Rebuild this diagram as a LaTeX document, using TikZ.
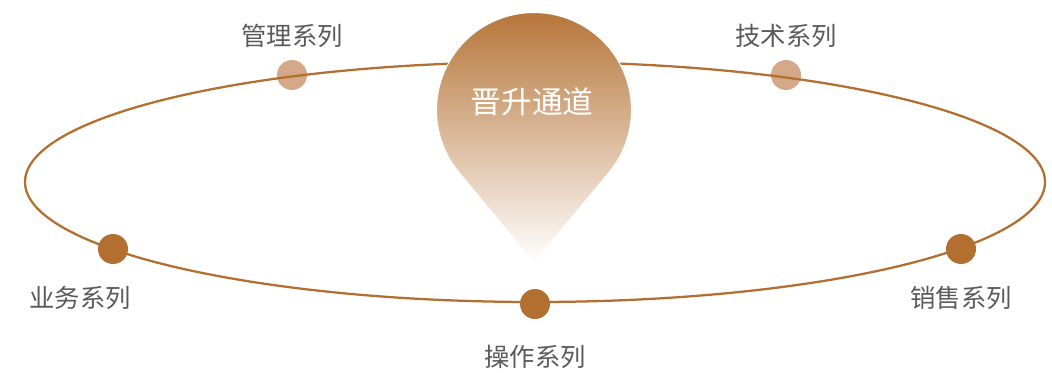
\documentclass[tikz,border=0pt]{standalone}
\usepackage{fontspec}
\setmainfont{Noto Sans CJK SC}
\usetikzlibrary{positioning}
\definecolor{bronze}{RGB}{179,111,48}
\definecolor{sand}{RGB}{212,169,138}
\definecolor{txtgray}{RGB}{90,90,90}
\begin{document}
\begin{tikzpicture}[x=0.75pt,y=0.75pt,line cap=round,line join=round,
		dot/.style={circle,fill=#1,minimum size=22.5pt,inner sep=0pt},
		lbl/.style={text=txtgray,font=\fontsize{19}{19}\selectfont,inner sep=0pt}]
	\useasboundingbox (0,0) rectangle (1052,372);
	% dots on the ring
	\node[dot=sand] (mgmt) at (292,297) {};
	\node[dot=sand] (tech) at (786,297) {};
	\node[dot=bronze] (biz) at (113,123) {};
	\node[dot=bronze] (sales) at (961,123) {};
	\node[dot=bronze] (ops) at (535,68) {};
	\draw[bronze,line width=1.7pt] (535,190) ellipse (510 and 120);
	% pin
	\shade[top color=bronze,middle color=bronze!65!white,bottom color=white,draw=white,line width=0.75pt]
		(534,109) -- (609.1,199.8) arc[start angle=-39.6,end angle=220.4,radius=97.5] -- cycle;
	\node[text=white,font=\fontsize{23}{23}\selectfont] (title) at (532,270) {晋升通道};
	% labels
	\node[lbl,above=9pt of mgmt] (mgmtlbl) {管理系列};
	\node[lbl,above=9pt of tech] (techlbl) {技术系列};
	\node[lbl,below=16pt of biz,xshift=-24.75pt] (bizlbl) {业务系列};
	\node[lbl,below=16pt of sales] (saleslbl) {销售系列};
	\node[lbl,below=19pt of ops] (opslbl) {操作系列};
\end{tikzpicture}
\end{document}
